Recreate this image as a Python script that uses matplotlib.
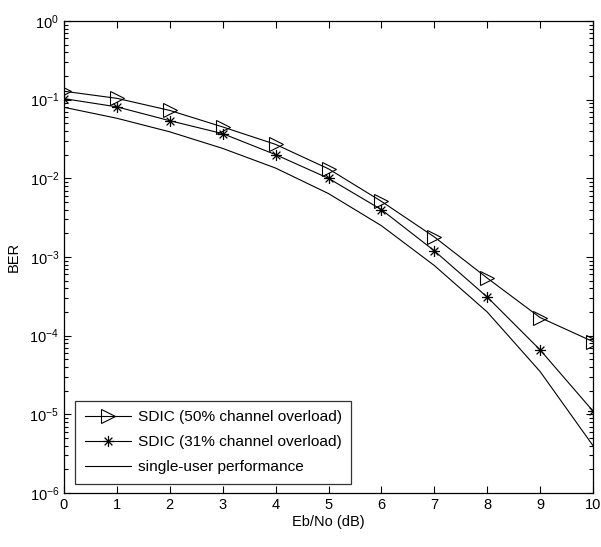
import matplotlib
matplotlib.use("Agg")
import matplotlib.pyplot as plt
from matplotlib.path import Path
import numpy as np

plt.rcParams['font.family'] = ['Liberation Sans', 'DejaVu Sans']
plt.rcParams['mathtext.fontset'] = 'custom'
plt.rcParams['mathtext.rm'] = 'Liberation Sans'
plt.rcParams['mathtext.it'] = 'Liberation Sans:italic'

ebno = [0, 1, 2, 3, 4, 5, 6, 7, 8, 9, 10]
ber_50 = [0.128, 0.104, 0.073, 0.045, 0.027, 0.0132, 0.0051, 0.0018, 0.00054, 0.00017, 8.4e-5]
ber_31 = [0.103, 0.081, 0.054, 0.037, 0.020, 0.0100, 0.0040, 0.0012, 0.00031, 6.6e-5, 1.1e-5]
ber_single = [0.080, 0.058, 0.039, 0.024, 0.0135, 0.0064, 0.0025, 0.00078, 0.0002, 3.5e-5, 4.0e-6]
labels = ['SDIC (50% channel overload)', 'SDIC (31% channel overload)', 'single-user performance']

# MATLAB-style asterisk: plus and cross overlaid
d = 0.7
star_verts = [(0, -1), (0, 1), (-1, 0), (1, 0), (-d, -d), (d, d), (-d, d), (d, -d)]
star_codes = [Path.MOVETO, Path.LINETO] * 4
star = Path(star_verts, star_codes)

fig = plt.figure(figsize=(6.01, 5.47), dpi=100)
ax = fig.add_axes([64 / 601, 54 / 547, 529 / 601, 472 / 547])

lw = 0.8
ax.semilogy(ebno, ber_50, color='black', lw=lw, marker='>', markersize=10,
            markerfacecolor='none', markeredgecolor='black', markeredgewidth=0.8, label=labels[0])
ax.semilogy(ebno, ber_31, color='black', lw=lw, marker=star, markersize=8,
            markerfacecolor='none', markeredgecolor='black', markeredgewidth=0.9, label=labels[1])
ax.semilogy(ebno, ber_single, color='black', lw=lw, label=labels[2])

ax.set_xlim(0, 10)
ax.set_ylim(1e-6, 1)
ax.set_xticks(range(0, 11))
ax.tick_params(which='both', direction='in', top=True, right=True, labelsize=10.5, width=0.8)
ax.tick_params(which='major', length=5)
ax.tick_params(which='minor', length=3)
for s in ax.spines.values():
    s.set_linewidth(0.9)

ax.set_xlabel('Eb/No (dB)', fontsize=10.5, labelpad=2)
ax.set_ylabel('BER', fontsize=10.5, labelpad=6)

leg = ax.legend(loc='lower left', bbox_to_anchor=(11 / 529, 9 / 472), borderaxespad=0,
                fontsize=11.1, frameon=True, fancybox=False, edgecolor='black',
                handlelength=3.0, handletextpad=0.45, labelspacing=0.72, borderpad=0.62)
leg.get_frame().set_linewidth(0.9)

fig.savefig('out.png', dpi=100)
